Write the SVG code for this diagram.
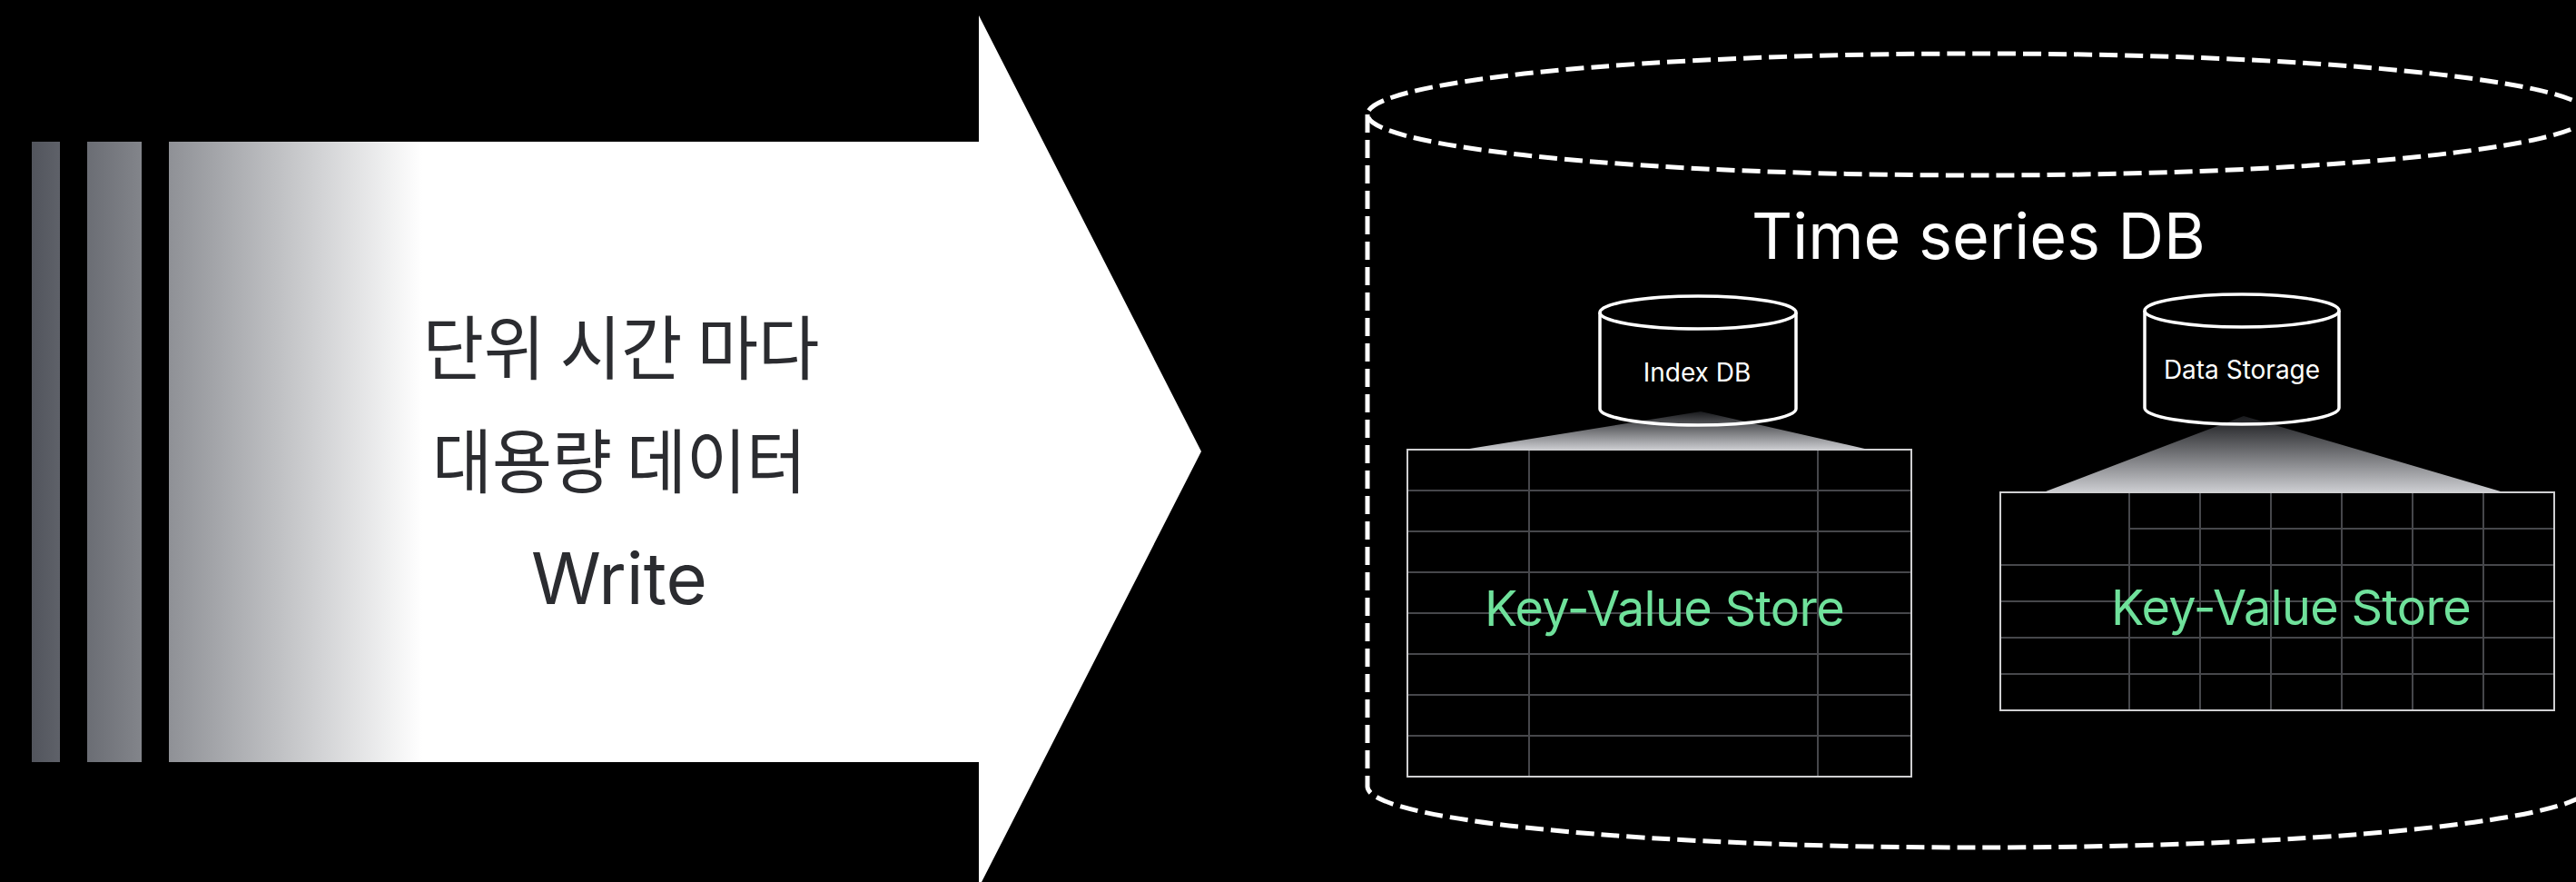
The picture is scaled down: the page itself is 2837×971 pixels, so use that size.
<svg xmlns="http://www.w3.org/2000/svg" width="2837" height="971" viewBox="0 0 2837 971">
<style>
.kr{font-family:"Noto Sans CJK KR","Noto Sans",sans-serif;font-size:77px;font-weight:400;fill:#2b2c30;text-anchor:middle}
.lat{font-family:Inter,"Liberation Sans",sans-serif;text-anchor:middle}
.dash{fill:none;stroke:#ffffff;stroke-width:5;stroke-dasharray:20 8}
.cyl{fill:none;stroke:#ffffff;stroke-width:3.5}
.grid{stroke:#46474b;stroke-width:2;fill:none}
.frame{fill:none;stroke:#cfcfd1;stroke-width:2}
.kv{font-family:Inter,"Liberation Sans",sans-serif;font-size:54px;letter-spacing:-0.7px;fill:#6fe19b;text-anchor:middle}
.cl{font-family:Inter,"Liberation Sans",sans-serif;font-size:28px;fill:#ffffff;text-anchor:middle}
</style>
<defs>
<linearGradient id="arrowGrad" gradientUnits="userSpaceOnUse" x1="35" y1="0" x2="465" y2="0">
<stop offset="0" stop-color="#52555d"/>
<stop offset="1" stop-color="#ffffff"/>
</linearGradient>
<linearGradient id="fanGrad" x1="0" y1="0" x2="0" y2="1">
<stop offset="0" stop-color="#18191c"/>
<stop offset="1" stop-color="#cbccd0"/>
</linearGradient>
</defs>
<rect x="0" y="0" width="2837" height="971" fill="#000000"/>

<g id="write-arrow">
<rect x="35" y="156" width="31" height="683" fill="url(#arrowGrad)"/>
<rect x="96" y="156" width="60" height="683" fill="url(#arrowGrad)"/>
<polygon points="186,156 1078,156 1078,17 1323,497 1078,977 1078,839 186,839" fill="url(#arrowGrad)"/>
<text class="kr" x="684" y="412" textLength="437" lengthAdjust="spacingAndGlyphs">단위 시간 마다</text>
<text class="kr" x="682" y="537" textLength="412" lengthAdjust="spacingAndGlyphs">대용량 데이터</text>
<text class="lat" x="682" y="665" font-size="78" fill="#2b2c30">Write</text>
</g>

<g id="timeseries-db">
<ellipse class="dash" cx="2179" cy="126" rx="673" ry="67"/>
<path class="dash" d="M1506,126 L1506,866 A673,67 0 0 0 2852,866 L2852,126"/>
<text class="lat" x="2179" y="285" font-size="70" fill="#ffffff">Time series DB</text>
</g>

<g id="index-kv-store">
<rect x="1550" y="495" width="555" height="360" fill="#000000"/>
<path class="grid" d="M1684,495V855M2002,495V855M1550,540H2105M1550,585H2105M1550,630H2105M1550,675H2105M1550,720H2105M1550,765H2105M1550,810H2105"/>
<rect class="frame" x="1550" y="495" width="555" height="360"/>
<text class="kv" x="1833" y="689">Key-Value Store</text>
</g>

<g id="data-kv-store">
<rect x="2203" y="542" width="610" height="240" fill="#000000"/>
<path class="grid" d="M2345,542V782M2423,542V782M2501,542V782M2579,542V782M2657,542V782M2735,542V782M2345,582H2813M2203,622H2813M2203,662H2813M2203,702H2813M2203,742H2813"/>
<rect class="frame" x="2203" y="542" width="610" height="240"/>
<text class="kv" x="2523" y="688">Key-Value Store</text>
</g>

<g id="connectors">
<polygon points="1873,453 2058,495 1612,495" fill="url(#fanGrad)"/>
<polygon points="2471,458 2754,541 2253,541" fill="url(#fanGrad)"/>
</g>

<g id="index-db">
<ellipse class="cyl" cx="1870" cy="344" rx="108" ry="18"/>
<path class="cyl" d="M1762,344 L1762,450 A108,18 0 0 0 1978,450 L1978,344"/>
<text class="cl" x="1869" y="420">Index DB</text>
</g>

<g id="data-storage">
<ellipse class="cyl" cx="2469" cy="342" rx="107" ry="18"/>
<path class="cyl" d="M2362,342 L2362,449 A107,18 0 0 0 2576,449 L2576,342"/>
<text class="cl" x="2469" y="417">Data Storage</text>
</g>
</svg>
